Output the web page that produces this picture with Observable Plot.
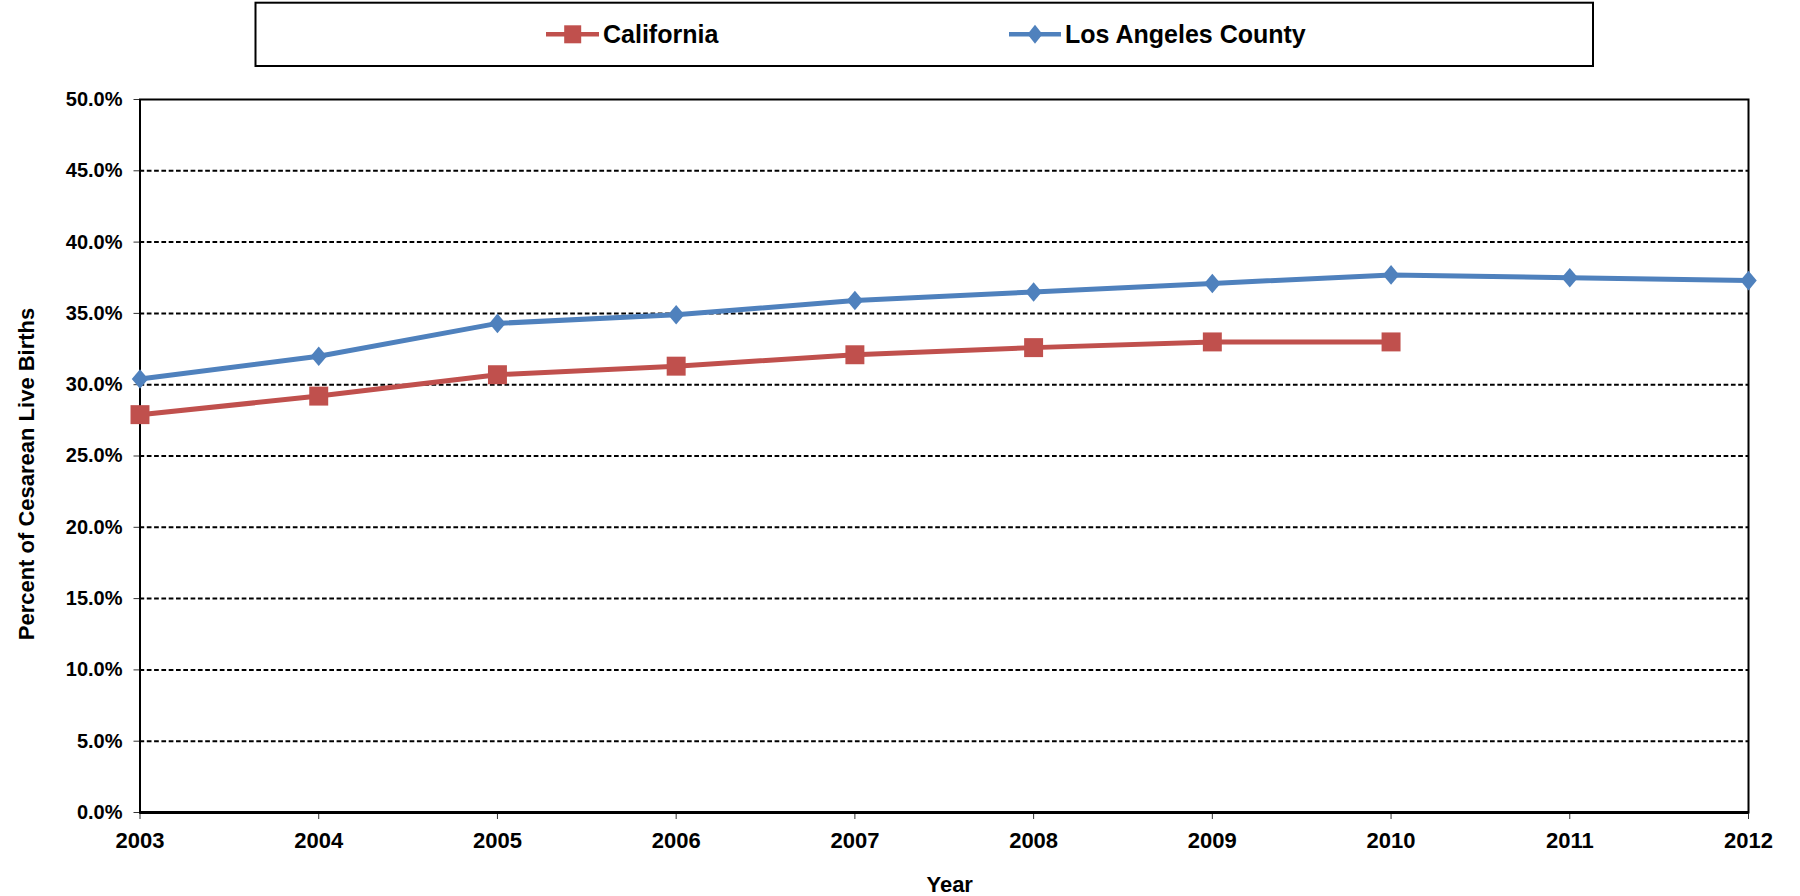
<!DOCTYPE html>
<html>
<head>
<meta charset="utf-8">
<script src="https://cdn.jsdelivr.net/npm/d3@7"></script>
<script src="https://cdn.jsdelivr.net/npm/@observablehq/plot@0.6"></script>
<style>
  html, body { margin: 0; padding: 0; background: #fff; }
  #chart { position: relative; width: 1800px; height: 896px; }
</style>
</head>
<body>
<div id="chart"></div>
<script>
// ---- Data ----
const years = [2003, 2004, 2005, 2006, 2007, 2008, 2009, 2010, 2011, 2012];
const laCounty = [30.4, 32.0, 34.3, 34.9, 35.9, 36.5, 37.1, 37.7, 37.5, 37.3];
const californiaYears = [2003, 2004, 2005, 2006, 2007, 2008, 2009, 2010];
const california = [27.9, 29.2, 30.7, 31.3, 32.1, 32.6, 33.0, 33.0];
const yTicks = [0, 5, 10, 15, 20, 25, 30, 35, 40, 45, 50];
const gridTicks = [5, 10, 15, 20, 25, 30, 35, 40, 45];
const seriesNames = ["California", "Los Angeles County"];
const seriesColors = ["#C0504D", "#4F81BD"];
const xTitle = "Year";
const yTitle = "Percent of Cesarean Live Births";

const caData = californiaYears.map((y, i) => ({year: y, value: california[i]}));
const laData = years.map((y, i) => ({year: y, value: laCounty[i]}));

const diamond = {
  draw(context, size) {
    const r = Math.sqrt(size / Math.PI);
    const h = r * 0.95, w = r * 0.8;
    context.moveTo(0, -h);
    context.lineTo(w, 0);
    context.lineTo(0, h);
    context.lineTo(-w, 0);
    context.closePath();
  }
};

const font = "'Liberation Sans', Arial, Helvetica, sans-serif";

const chart = Plot.plot({
  width: 1800,
  height: 896,
  marginTop: 99,
  marginBottom: 84,
  marginLeft: 139.5,
  marginRight: 52,
  style: {fontFamily: font, fontWeight: "bold", color: "black", background: "white", overflow: "visible"},
  x: {domain: [2003, 2012]},
  y: {domain: [0, 50]},
  marks: [
    Plot.ruleY(gridTicks, {stroke: "black", strokeWidth: 2, strokeDasharray: "4.7,2.6"}),
    Plot.axisX({ticks: years, tickFormat: d => String(d), tickSize: 7, tickPadding: 13,
      fontSize: 22, fontWeight: "bold", label: null, stroke: "#333"}),
    Plot.axisY({ticks: yTicks, tickFormat: d => d.toFixed(1) + "%", tickSize: 6, tickPadding: 11.5,
      fontSize: 20, fontWeight: "bold", label: null, stroke: "#333"}),
    Plot.frame({stroke: "black", strokeWidth: 2}),
    Plot.ruleY([0], {stroke: "black", strokeWidth: 3}),
    Plot.line(caData, {x: "year", y: "value", stroke: seriesColors[0], strokeWidth: 5}),
    Plot.dot(caData, {x: "year", y: "value", symbol: "square", r: 10.7, fill: seriesColors[0]}),
    Plot.line(laData, {x: "year", y: "value", stroke: seriesColors[1], strokeWidth: 5}),
    Plot.dot(laData, {x: "year", y: "value", symbol: diamond, r: 10.3, fill: seriesColors[1]})
  ]
});

document.getElementById("chart").appendChild(chart);

const svg = d3.select(chart.tagName.toLowerCase() === "svg" ? chart : chart.querySelector("svg"));

// ---- Axis titles ----
const tg = svg.append("g").attr("font-family", font).attr("font-weight", "bold")
  .attr("font-size", 22).attr("fill", "black").attr("text-anchor", "middle");
tg.append("text").attr("x", 949.7).attr("y", 891.7).text(xTitle);
tg.append("text").attr("transform", "translate(33.5,474) rotate(-90)").text(yTitle);

// ---- Legend (top) ----
const lg = svg.append("g").attr("font-family", font).attr("font-weight", "bold").attr("text-anchor", "start");
lg.append("rect").attr("x", 255.5).attr("y", 2.7).attr("width", 1337.5).attr("height", 63.3)
  .attr("fill", "white").attr("stroke", "black").attr("stroke-width", 2);

const items = [
  {name: seriesNames[0], color: seriesColors[0], x0: 546, x1: 599, cx: 572.7, tx: 603, shape: "square"},
  {name: seriesNames[1], color: seriesColors[1], x0: 1009, x1: 1061, cx: 1035, tx: 1065, shape: "diamond"}
];
const ly = 34.3;
items.forEach(it => {
  lg.append("line").attr("x1", it.x0).attr("x2", it.x1).attr("y1", ly).attr("y2", ly)
    .attr("stroke", it.color).attr("stroke-width", 4.5);
  if (it.shape === "square") {
    lg.append("rect").attr("x", it.cx - 8.5).attr("y", ly - 9).attr("width", 17).attr("height", 18)
      .attr("fill", it.color);
  } else {
    lg.append("path").attr("d", `M${it.cx},${ly - 9.5}L${it.cx + 7.5},${ly}L${it.cx},${ly + 9.5}L${it.cx - 7.5},${ly}Z`)
      .attr("fill", it.color);
  }
  lg.append("text").attr("x", it.tx).attr("y", 43.3).attr("font-size", 25).attr("fill", "black")
    .attr("text-anchor", "start").text(it.name);
});
</script>
</body>
</html>
